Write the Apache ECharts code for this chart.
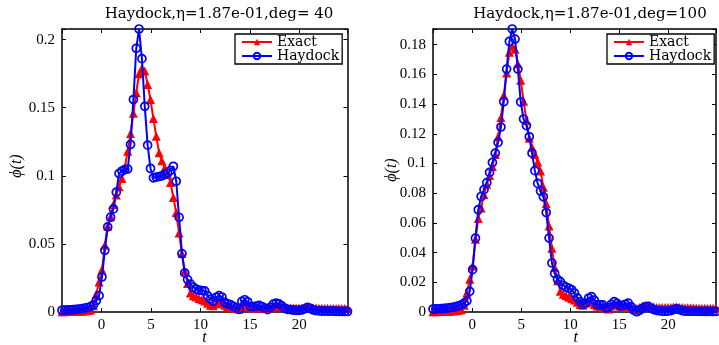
<!DOCTYPE html>
<html>
<head>
<meta charset="utf-8">
<script src="https://cdn.jsdelivr.net/npm/echarts@6/dist/echarts.min.js"></script>
<style>
html,body{margin:0;padding:0;background:#fff;}
#chart{width:719px;height:345px;}
</style>
</head>
<body>
<div id="chart"></div>
<script>
// time samples
const t = [-4.00,-3.71,-3.42,-3.13,-2.85,-2.56,-2.27,-1.98,-1.69,-1.40,
-1.11,-0.82,-0.54,-0.25,0.04,0.33,0.62,0.91,1.20,1.49,
1.77,2.06,2.35,2.64,2.93,3.22,3.51,3.79,4.08,4.37,
4.66,4.95,5.24,5.53,5.82,6.10,6.39,6.68,6.97,7.26,
7.55,7.84,8.13,8.41,8.70,8.99,9.28,9.57,9.86,10.15,
10.43,10.72,11.01,11.30,11.59,11.88,12.17,12.46,12.74,13.03,
13.32,13.61,13.90,14.19,14.48,14.77,15.05,15.34,15.63,15.92,
16.21,16.50,16.79,17.08,17.36,17.65,17.94,18.23,18.52,18.81,
19.10,19.38,19.67,19.96,20.25,20.54,20.83,21.12,21.41,21.69,
21.98,22.27,22.56,22.85,23.14,23.43,23.72,24.00,24.29,24.58,
24.87];

// Exact (same in both panels)
const exact = [0.0002,0.0002,0.0003,0.0003,0.0004,0.0004,0.0005,0.0006,0.0008,0.0011,
0.0015,0.0045,0.0130,0.0220,0.0310,0.0490,0.0630,0.0700,0.0790,0.0860,
0.0920,0.0980,0.1060,0.1180,0.1310,0.1460,0.1610,0.1750,0.1790,0.1770,
0.1670,0.1560,0.1420,0.1290,0.1170,0.1110,0.1060,0.1010,0.0950,0.0840,
0.0730,0.0580,0.0430,0.0300,0.0210,0.0140,0.0120,0.0110,0.0100,0.0090,
0.0080,0.0065,0.0050,0.0045,0.0060,0.0070,0.0065,0.0050,0.0040,0.0035,
0.0030,0.0025,0.0020,0.0040,0.0055,0.0050,0.0040,0.0030,0.0030,0.0035,
0.0030,0.0025,0.0025,0.0030,0.0040,0.0045,0.0045,0.0040,0.0035,0.0030,
0.0030,0.0030,0.0030,0.0030,0.0030,0.0033,0.0035,0.0032,0.0030,0.0029,
0.0028,0.0028,0.0027,0.0027,0.0026,0.0026,0.0026,0.0025,0.0025,0.0025,
0.0025];

// Haydock, deg = 40
const haydock40 = [0.0013,0.0014,0.0015,0.0016,0.0018,0.0020,0.0022,0.0025,0.0028,0.0033,
0.0040,0.0052,0.0083,0.0120,0.0257,0.0453,0.0625,0.0696,0.0757,0.0880,
0.1017,0.1035,0.1046,0.1050,0.1230,0.1560,0.1936,0.2078,0.1860,0.1510,
0.1225,0.1054,0.0985,0.0990,0.0995,0.1000,0.1010,0.1020,0.1040,0.1070,
0.0960,0.0695,0.0429,0.0287,0.0238,0.0205,0.0182,0.0168,0.0160,0.0157,
0.0155,0.0120,0.0095,0.0078,0.0108,0.0120,0.0110,0.0070,0.0060,0.0054,
0.0042,0.0030,0.0020,0.0078,0.0090,0.0075,0.0041,0.0040,0.0043,0.0049,
0.0040,0.0028,0.0017,0.0035,0.0058,0.0065,0.0060,0.0045,0.0027,0.0020,
0.0017,0.0014,0.0012,0.0012,0.0015,0.0024,0.0034,0.0026,0.0015,0.0010,
0.0008,0.0007,0.0007,0.0006,0.0006,0.0006,0.0005,0.0005,0.0005,0.0004,
0.0004];

// Haydock, deg = 100
const haydock100 = [0.0020,0.0021,0.0022,0.0023,0.0025,0.0027,0.0029,0.0032,0.0036,0.0041,
0.0048,0.0060,0.0075,0.0139,0.0285,0.0497,0.0689,0.0778,0.0824,0.0871,
0.0940,0.1007,0.1070,0.1142,0.1246,0.1416,0.1636,0.1822,0.1906,0.1838,
0.1636,0.1414,0.1300,0.1255,0.1180,0.1070,0.0952,0.0866,0.0815,0.0776,
0.0670,0.0498,0.0330,0.0260,0.0220,0.0205,0.0180,0.0168,0.0160,0.0150,
0.0128,0.0095,0.0070,0.0052,0.0060,0.0094,0.0103,0.0080,0.0050,0.0048,
0.0048,0.0028,0.0030,0.0052,0.0070,0.0058,0.0040,0.0044,0.0052,0.0060,
0.0035,0.0012,0.0002,0.0012,0.0025,0.0035,0.0038,0.0027,0.0016,0.0011,
0.0008,0.0006,0.0005,0.0006,0.0009,0.0016,0.0022,0.0016,0.0009,0.0006,
0.0005,0.0005,0.0005,0.0005,0.0005,0.0004,0.0004,0.0004,0.0004,0.0004,
0.0004];

const titles = ['Haydock,\u03b7=1.87e-01,deg= 40', 'Haydock,\u03b7=1.87e-01,deg=100'];
const seriesNames = ['Exact', 'Haydock'];
const xStep = 5;
const yStep = [0.05, 0.02];

function pairs(ys) { return t.map((x, i) => [x, ys[i]]); }

const chart = echarts.init(document.getElementById('chart'), null, {renderer: 'canvas'});

const grids = [
  {left: 62, top: 29, width: 285.5, height: 283},
  {left: 433, top: 29, width: 286, height: 283}
];
const yMax = [Math.max(...haydock40, ...exact), Math.max(...haydock100, ...exact)];
const xMin = t[0], xMax = t[t.length - 1];

const axisLine = {show: true, onZero: false, lineStyle: {color: '#000', width: 1.5}};
const tick = {show: true, inside: true, length: 4, lineStyle: {color: '#000', width: 1}};
const labelFont = {color: '#000', fontFamily: 'Liberation Serif', fontSize: 15};

function fmt(step) {
  return function (v) {
    const r = v / step;
    if (Math.abs(r - Math.round(r)) > 1e-6) return '';
    return String(+v.toFixed(4));
  };
}

const xAxes = [], yAxes = [];
[0, 1].forEach(g => {
  xAxes.push({gridIndex: g, type: 'value', position: 'bottom', min: xMin, max: xMax,
    splitNumber: 5, minInterval: xStep, maxInterval: xStep,
    axisLine: axisLine, axisTick: tick, splitLine: {show: false},
    axisLabel: Object.assign({margin: 6, formatter: fmt(xStep)}, labelFont)});
  xAxes.push({gridIndex: g, type: 'value', position: 'top', min: xMin, max: xMax,
    splitNumber: 5, minInterval: xStep, maxInterval: xStep,
    axisLine: axisLine, axisTick: tick, splitLine: {show: false}, axisLabel: {show: false}});
  yAxes.push({gridIndex: g, type: 'value', position: 'left', min: 0, max: yMax[g],
    minInterval: yStep[g], maxInterval: yStep[g],
    axisLine: axisLine, axisTick: tick, splitLine: {show: false},
    axisLabel: Object.assign({margin: 7, formatter: fmt(yStep[g])}, labelFont)});
  yAxes.push({gridIndex: g, type: 'value', position: 'right', min: 0, max: yMax[g],
    minInterval: yStep[g], maxInterval: yStep[g],
    axisLine: axisLine, axisTick: tick, splitLine: {show: false}, axisLabel: {show: false}});
});

const series = [];
[[exact, haydock40], [exact, haydock100]].forEach((pair, g) => {
  series.push({name: seriesNames[0], type: 'line', xAxisIndex: g * 2, yAxisIndex: g * 2,
    data: pairs(pair[0]), symbol: 'triangle', symbolSize: 9, showSymbol: true, showAllSymbol: true,
    clip: false, z: 2, silent: true,
    lineStyle: {color: '#ff0000', width: 2}, itemStyle: {color: '#ff0000'}});
  series.push({name: seriesNames[1], type: 'line', xAxisIndex: g * 2, yAxisIndex: g * 2,
    data: pairs(pair[1]), symbol: 'circle', symbolSize: 8, showSymbol: true, showAllSymbol: true,
    clip: false, z: 3, silent: true,
    lineStyle: {color: '#0000ff', width: 2},
    itemStyle: {color: 'rgba(255,255,255,0)', borderColor: '#0000ff', borderWidth: 1.7}});
});

function legendAt(left) {
  return {left: left, top: 34, orient: 'vertical', itemGap: 0, itemWidth: 30, itemHeight: 8,
    padding: [1, 3, 1, 6], borderColor: '#000', borderWidth: 1.3, backgroundColor: '#fff',
    selectedMode: false, data: seriesNames,
    textStyle: {fontFamily: 'DejaVu Serif', fontSize: 14, lineHeight: 14, color: '#000'}};
}

function txt(x, y, text, font, rot) {
  return {type: 'text', x: x, y: y, rotation: rot || 0, silent: true,
    style: {text: text, font: font, fill: '#000', textAlign: 'center', align: 'center',
      textVerticalAlign: 'middle', verticalAlign: 'middle'}};
}

chart.setOption({
  animation: false,
  backgroundColor: '#fff',
  grid: grids,
  xAxis: xAxes,
  yAxis: yAxes,
  legend: [legendAt(235), legendAt(607)],
  series: series,
  graphic: [
    txt(219, 14, titles[0], '15px "DejaVu Serif"'),
    txt(590, 14, titles[1], '15px "DejaVu Serif"'),
    txt(17, 166, '\u03d5(t)', 'italic 16px "Liberation Serif"', Math.PI / 2),
    txt(392, 170, '\u03d5(t)', 'italic 16px "Liberation Serif"', Math.PI / 2),
    txt(204.5, 338, 't', 'italic 16px "Liberation Serif"'),
    txt(575.7, 338, 't', 'italic 16px "Liberation Serif"')
  ]
});
</script>
</body>
</html>
